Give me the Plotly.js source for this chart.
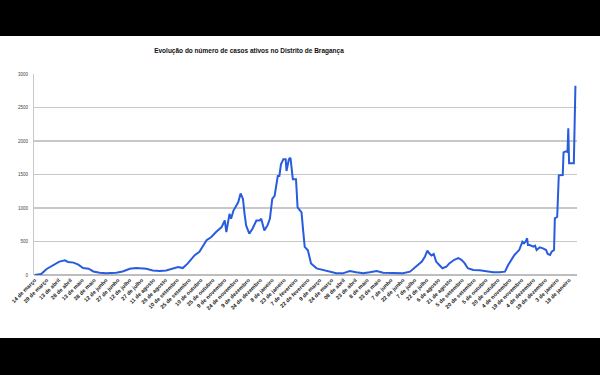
<!DOCTYPE html>
<html>
<head>
<meta charset="utf-8">
<script src="https://cdn.plot.ly/plotly-3.0.1.min.js"></script>
<style>
html,body{margin:0;padding:0;background:#000;width:600px;height:375px;overflow:hidden;}
#chart{position:absolute;left:0;top:36px;width:600px;height:302px;background:#fff;}
</style>
</head>
<body>
<div id="chart"></div>
<script>
const titulo = "Evolução do número de casos ativos no Distrito de Bragança";

const datas = [
"2020-03-14","2020-03-22","2020-03-29","2020-04-06","2020-04-14","2020-04-21","2020-04-25","2020-05-02","2020-05-08","2020-05-14",
"2020-05-21","2020-05-27","2020-06-04","2020-06-12","2020-06-25","2020-07-03","2020-07-12","2020-07-20","2020-08-02","2020-08-10",
"2020-08-19","2020-08-27","2020-09-04","2020-09-11","2020-09-17","2020-09-23","2020-10-02","2020-10-08","2020-10-17","2020-10-23",
"2020-10-29","2020-11-05","2020-11-09","2020-11-11","2020-11-15","2020-11-17","2020-11-20","2020-11-24","2020-11-26","2020-11-29",
"2020-12-02","2020-12-04","2020-12-06","2020-12-10","2020-12-14","2020-12-19","2020-12-23","2020-12-25","2020-12-27","2020-12-29",
"2021-01-02","2021-01-05","2021-01-08","2021-01-11","2021-01-15","2021-01-17","2021-01-19","2021-01-22","2021-01-25","2021-01-26",
"2021-01-29","2021-01-31","2021-02-03","2021-02-07","2021-02-09","2021-02-14","2021-02-16","2021-02-18","2021-02-22","2021-02-26",
"2021-03-05","2021-03-13","2021-03-21","2021-03-30","2021-04-07","2021-04-16","2021-04-24","2021-05-03","2021-05-11","2021-05-20",
"2021-05-28","2021-06-10","2021-06-22","2021-07-01","2021-07-09","2021-07-16","2021-07-20","2021-07-23","2021-07-25","2021-07-28",
"2021-07-31","2021-08-03","2021-08-07","2021-08-11","2021-08-16","2021-08-20","2021-08-26","2021-08-31","2021-09-04","2021-09-08",
"2021-09-12","2021-09-19","2021-09-27","2021-10-06","2021-10-14","2021-10-22","2021-10-29","2021-11-02","2021-11-06","2021-11-10",
"2021-11-14","2021-11-16","2021-11-20","2021-11-22","2021-11-24","2021-11-26","2021-11-27","2021-11-29","2021-12-04","2021-12-06",
"2021-12-08","2021-12-12","2021-12-16","2021-12-20","2021-12-22","2021-12-25","2021-12-27","2021-12-30","2021-12-31","2022-01-03",
"2022-01-05","2022-01-08","2022-01-10","2022-01-11","2022-01-14","2022-01-16","2022-01-17","2022-01-18","2022-01-24","2022-01-26"
];

const casosAtivos = [
0,15,90,150,200,218,194,185,155,103,
94,53,33,27,33,53,94,103,94,68,
58,68,94,118,103,170,296,345,518,567,
641,715,814,641,913,839,962,1036,1084,1218,
1135,913,740,617,691,814,814,839,765,666,
740,839,1135,1183,1479,1479,1652,1726,1726,1553,
1726,1750,1430,1430,1010,936,666,419,370,173,
99,76,50,25,25,60,40,25,40,60,
35,25,25,50,126,200,277,363,328,292,
313,200,150,101,126,177,227,252,227,177,
101,76,70,50,40,40,50,150,224,299,
348,373,497,473,497,548,448,448,423,437,
373,413,398,373,313,299,348,373,846,870,
1488,1488,1493,1831,1846,1836,2190,1667,1667,2826
];

const tickDatas = [
"2020-03-14","2020-03-29","2020-04-13","2020-04-28","2020-05-13","2020-05-28","2020-06-12","2020-06-27","2020-07-12","2020-07-27",
"2020-08-11","2020-08-26","2020-09-10","2020-09-25","2020-10-10","2020-10-25","2020-11-09","2020-11-24","2020-12-09","2020-12-24",
"2021-01-08","2021-01-23","2021-02-07","2021-02-22","2021-03-09","2021-03-24","2021-04-08","2021-04-23","2021-05-08","2021-05-23",
"2021-06-07","2021-06-22","2021-07-07","2021-07-22","2021-08-06","2021-08-21","2021-09-05","2021-09-20","2021-10-05","2021-10-20",
"2021-11-04","2021-11-19","2021-12-04","2021-12-19","2022-01-03","2022-01-18"
];
const tickTextos = [
"14 de março","29 de março","13 de abril","28 de abril","13 de maio","28 de maio","12 de junho","27 de junho","12 de julho","27 de julho",
"11 de agosto","26 de agosto","10 de setembro","25 de setembro","10 de outubro","25 de outubro","9 de novembro","24 de novembro","9 de dezembro","24 de dezembro",
"8 de janeiro","23 de janeiro","7 de fevereiro","22 de fevereiro","9 de março","24 de março","08 de abril","23 de abril","8 de maio","23 de maio",
"7 de junho","22 de junho","7 de julho","22 de julho","6 de agosto","21 de agosto","5 de setembro","20 de setembro","5 de outubro","20 de outubro",
"4 de novembro","19 de novembro","4 de dezembro","19 de dezembro","3 de janeiro","18 de janeiro"
];
const yTicks = [0,500,1000,1500,2000,2500,3000];

const trace = {
  x: datas, y: casosAtivos, type: 'scatter', mode: 'lines',
  line: {color: 'rgb(40,92,222)', width: 2},
  hoverinfo: 'skip'
};

const layout = {
  width: 600, height: 302,
  margin: {l: 34, r: 23, t: 38, b: 63},
  paper_bgcolor: '#fff', plot_bgcolor: '#fff',
  showlegend: false,
  title: {
    text: titulo,
    font: {family: 'Liberation Sans, Arial, sans-serif', size: 6.5, color: '#111', weight: 'bold'},
    x: 249/600, xref: 'container', xanchor: 'center',
    y: 1 - 15/302, yref: 'container', yanchor: 'middle'
  },
  xaxis: {
    type: 'date',
    range: ['2020-03-13', '2022-01-28'],
    tickmode: 'array', tickvals: tickDatas, ticktext: tickTextos,
    tickangle: -45,
    tickfont: {family: 'Liberation Sans, Arial, sans-serif', size: 5.5, color: '#222', weight: 'bold'},
    showgrid: false, zeroline: false,
    showline: false, ticks: '', ticklen: 0
  },
  yaxis: {
    range: [0, 3000],
    tickmode: 'array', tickvals: yTicks,
    tickfont: {family: 'Liberation Sans, Arial, sans-serif', size: 4.5, color: '#444'},
    showgrid: true, gridcolor: '#c8c8c8', gridwidth: 1.2,
    zeroline: true, zerolinecolor: '#bdbdbd', zerolinewidth: 1.2,
    showline: true, linecolor: '#c8c8c8', linewidth: 1,
    ticks: '', ticklabelstandoff: 4
  }
};

Plotly.newPlot('chart', [trace], layout, {displayModeBar: false, staticPlot: true});
</script>
</body>
</html>
